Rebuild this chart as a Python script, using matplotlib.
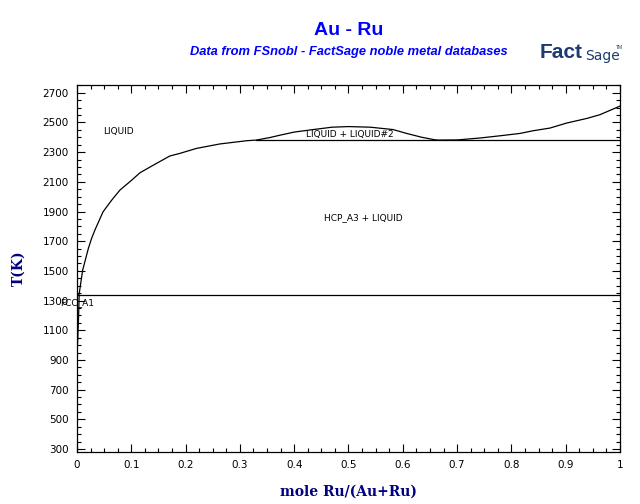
import matplotlib
matplotlib.use("Agg")
import matplotlib.pyplot as plt
from matplotlib.ticker import MultipleLocator

# phase boundaries (x = mole Ru/(Au+Ru), T in K)
liq_left_x = [0.0, 0.004, 0.0105, 0.021, 0.027, 0.033, 0.048, 0.064, 0.079, 0.101,
              0.116, 0.141, 0.171, 0.190, 0.220, 0.263, 0.313, 0.33, 0.355, 0.375,
              0.40, 0.435, 0.47, 0.50, 0.54, 0.582, 0.607, 0.635, 0.662]
liq_left_T = [1337, 1345, 1506, 1652, 1720, 1775, 1898, 1977, 2044, 2112,
              2161, 2213, 2274, 2292, 2325, 2355, 2377, 2381, 2398, 2415,
              2435, 2452, 2468, 2472, 2468, 2452, 2426, 2400, 2381]
liq_right_x = [0.662, 0.70, 0.742, 0.779, 0.816, 0.840, 0.871, 0.902, 0.939, 0.963, 1.0]
liq_right_T = [2381, 2382, 2395, 2410, 2426, 2444, 2462, 2496, 2527, 2552, 2610]
solvus_x = [0.004, 0.003, 0.0015, 0.0]
solvus_T = [1337, 1200, 1050, 936]
monotectic_T = 2381
monotectic_x = [0.33, 1.0]
peritectic_T = 1337
peritectic_x = [0.0, 1.0]

labels = ["LIQUID", "LIQUID + LIQUID#2", "HCP_A3 + LIQUID", "FCC_A1"]
label_x = [0.048, 0.503, 0.527, -0.031]
label_T = [2442, 2418, 1862, 1283]
label_ha = ["left", "center", "center", "left"]

x_ticks = [i / 10 for i in range(11)]
x_ticklabels = ["0"] + ["%.1f" % (i / 10) for i in range(1, 10)] + ["1"]
y_ticks = list(range(300, 2701, 200))

fig = plt.figure(figsize=(6.4, 5.04), dpi=100)
ax = fig.add_axes([0.1203, 0.1032, 0.8484, 0.7281])

lw = 0.9
ax.plot(liq_left_x, liq_left_T, color="black", lw=lw)
ax.plot(liq_right_x, liq_right_T, color="black", lw=lw)
ax.plot(solvus_x, solvus_T, color="black", lw=lw)
ax.plot(monotectic_x, [monotectic_T, monotectic_T], color="black", lw=lw)
ax.plot(peritectic_x, [peritectic_T, peritectic_T], color="black", lw=lw)

for s, x, t, ha in zip(labels, label_x, label_T, label_ha):
    ax.text(x, t, s, fontsize=6.5, ha=ha, va="center", clip_on=False,
            family="DejaVu Sans")

ax.set_xlim(0, 1)
ax.set_ylim(280, 2752)
ax.set_xticks(x_ticks)
ax.set_xticklabels(x_ticklabels)
ax.xaxis.set_minor_locator(MultipleLocator(0.025))
ax.set_yticks(y_ticks)
ax.yaxis.set_minor_locator(MultipleLocator(50))
ax.tick_params(which="both", direction="in", top=True, right=True,
               labelsize=7.5, pad=6)
ax.tick_params(which="major", length=6, width=0.8)
ax.tick_params(which="minor", length=3, width=0.8)
for sp in ax.spines.values():
    sp.set_linewidth(0.9)

navy = "#000080"
ax.set_xlabel("mole Ru/(Au+Ru)", family="DejaVu Serif", fontweight="bold",
              fontsize=10, color=navy, labelpad=10)
ax.set_ylabel("T(K)", family="DejaVu Serif", fontweight="bold",
              fontsize=10, color=navy, labelpad=12)

fig.text(0.545, 0.94, "Au - Ru", ha="center", va="center", fontsize=14,
         fontweight="bold", color="#0000ff", family="Liberation Sans")
fig.text(0.545, 0.897, "Data from FSnobl - FactSage noble metal databases",
         ha="center", va="center", fontsize=9.3, fontweight="bold",
         style="italic", color="#0000ff", family="Liberation Sans")

# FactSage logo as text
logo = "#1f3a6e"
fig.text(0.843, 0.895, "Fact", ha="left", va="center", fontsize=15,
         fontweight="bold", color=logo, family="Liberation Sans")
fig.text(0.915, 0.888, "Sage", ha="left", va="center", fontsize=10,
         color=logo, family="Liberation Sans Narrow")
fig.text(0.962, 0.905, "TM", ha="left", va="center", fontsize=3.5,
         color=logo, family="Liberation Sans")

fig.savefig("out.png", dpi=100)
